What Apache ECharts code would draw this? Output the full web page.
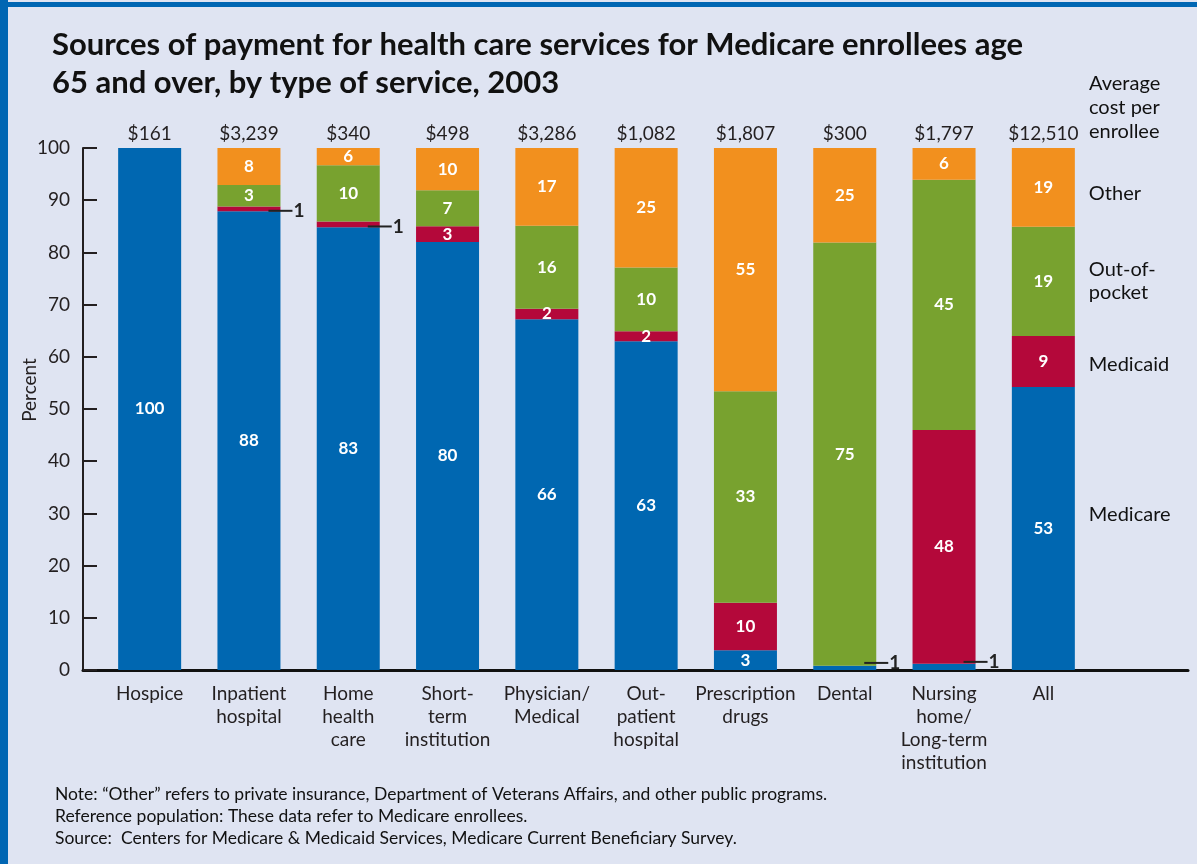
<!DOCTYPE html>
<html>
<head>
<meta charset="utf-8">
<script src="https://cdn.jsdelivr.net/npm/echarts@6/dist/echarts.min.js"></script>
<style>
  html, body { margin: 0; padding: 0; background: #dfe4f2; }
  #chart { width: 1197px; height: 864px; }
  .bl { position: absolute; left: 0; top: 0; width: 8px; height: 864px; background: #0066b3; }
  .bt { position: absolute; left: 0; top: 2px; width: 1197px; height: 5px; background: #0066b3; }
</style>
</head>
<body>
<div id="chart"></div>
<div class="bl"></div>
<div class="bt"></div>
<script>
const categories = ['Hospice', 'Inpatient\nhospital', 'Home\nhealth\ncare', 'Short-\nterm\ninstitution',
  'Physician/\nMedical', 'Out-\npatient\nhospital', 'Prescription\ndrugs', 'Dental',
  'Nursing\nhome/\nLong-term\ninstitution', 'All'];
const costs = ['$161', '$3,239', '$340', '$498', '$3,286', '$1,082', '$1,807', '$300', '$1,797', '$12,510'];

// bar heights as drawn (percent)
const medicare    = [100, 87.9, 84.8, 82.0, 67.2, 63.0, 3.8, 0.8, 1.2, 54.2];
const medicaid    = [0, 0.9, 1.1, 3.0, 2.0, 1.9, 9.1, 0, 44.8, 9.8];
const outOfPocket = [0, 4.1, 10.8, 6.9, 15.9, 12.2, 40.5, 81.1, 47.9, 20.9];
const other       = [0, 7.1, 3.3, 8.1, 14.9, 22.9, 46.6, 18.1, 6.1, 15.1];

// printed value labels
const medicareLabels    = ['100', '88', '83', '80', '66', '63', '3', '1', '1', '53'];
const medicaidLabels    = ['', '1', '1', '3', '2', '2', '10', '', '48', '9'];
const outOfPocketLabels = ['', '3', '10', '7', '16', '10', '33', '75', '45', '19'];
const otherLabels       = ['', '8', '6', '10', '17', '25', '55', '25', '6', '19'];

// labels drawn outside with a leader line
const medicareLeader = [7, 8];
const medicaidLeader = [1, 2];

const seriesNames = ['Medicare', 'Medicaid', 'Out-of-pocket', 'Other'];
const sideNames = ['Medicare', 'Medicaid', 'Out-of-\npocket', 'Other'];
const yTicks = [0, 10, 20, 30, 40, 50, 60, 70, 80, 90, 100];

const colors = ['#0067b1', '#b4083a', '#78a22f', '#f2901e'];
const FONT = 'Lato, "Open Sans", sans-serif';
const TXT = '#231f20';

const chart = echarts.init(document.getElementById('chart'), null, { renderer: 'canvas' });

function leaderLabel(text, dy) {
  return {
    show: true,
    position: 'right',
    distance: 0,
    offset: [-12, dy],
    formatter: '{l|}{n|' + text + '}',
    rich: {
      l: { width: 24, height: 2, backgroundColor: '#222', verticalAlign: 'middle' },
      n: { fontSize: 19, fontWeight: 'bold', color: '#222', fontFamily: FONT, verticalAlign: 'middle', padding: [0, 0, 0, 1] }
    }
  };
}

function segment(idx, values, labels, leaderIdx, leaderDy) {
  return {
    name: seriesNames[idx],
    type: 'bar',
    stack: 'total',
    barWidth: 63,
    barGap: '-100%',
    xAxisIndex: 0,
    yAxisIndex: 0,
    itemStyle: { color: colors[idx] },
    label: {
      show: true,
      position: 'inside',
      color: '#ffffff',
      fontSize: 17,
      fontWeight: 'bold',
      fontFamily: FONT,
      formatter: p => labels[p.dataIndex]
    },
    data: values.map((v, i) => leaderIdx.includes(i)
      ? { value: v, label: leaderLabel(labels[i], leaderDy) }
      : v),
    silent: true,
    animation: false
  };
}

const last = categories.length - 1;
const sideOffsets = [-14, 3, 0, 6];
const allSeriesValues = [medicare, medicaid, outOfPocket, other];

const sideSeries = allSeriesValues.map((vals, k) => ({
  name: seriesNames[k] + ' side',
  type: 'bar',
  stack: 'side',
  barWidth: 63,
  barGap: '-100%',
  itemStyle: { color: 'rgba(0,0,0,0)' },
  label: {
    show: true,
    position: 'right',
    distance: 14,
    offset: [0, sideOffsets[k]],
    color: '#111',
    fontSize: 20,
    lineHeight: 23,
    fontFamily: FONT,
    formatter: () => sideNames[k]
  },
  data: vals.map((v, i) => i === last ? v : '-'),
  silent: true,
  animation: false
}));

const option = {
  backgroundColor: '#dfe4f2',
  animation: false,
  title: [
    {
      text: 'Sources of payment for health care services for Medicare enrollees age\n65 and over, by type of service, 2003',
      left: 52, top: 26, padding: 0,
      textStyle: { fontSize: 31, fontWeight: 'bold', color: '#111', lineHeight: 38,
        fontFamily: 'Lato, sans-serif' }
    },
    {
      text: 'Average\ncost per\nenrollee',
      left: 1089, top: 72, padding: 0,
      textStyle: { fontSize: 20, fontWeight: 'normal', color: '#111', lineHeight: 24, fontFamily: FONT }
    },
    {
      text: 'Note: \u201cOther\u201d refers to private insurance, Department of Veterans Affairs, and other public programs.\nReference population: These data refer to Medicare enrollees.\nSource:  Centers for Medicare & Medicaid Services, Medicare Current Beneficiary Survey.',
      left: 55, top: 783, padding: 0,
      textStyle: { fontSize: 17.5, fontWeight: 'normal', color: '#111', lineHeight: 22, fontFamily: FONT }
    }
  ],
  grid: [
    { left: 100, right: 104, top: 148, bottom: 194 },
    { left: 83, right: 9, top: 148, bottom: 194 }
  ],
  xAxis: [
    {
      type: 'category', gridIndex: 0, data: categories,
      axisLine: { show: false }, axisTick: { show: false },
      axisLabel: { interval: 0, margin: 12, fontSize: 19, lineHeight: 23, color: TXT, fontFamily: FONT }
    },
    {
      type: 'category', gridIndex: 0, position: 'top', data: costs,
      axisLine: { show: false }, axisTick: { show: false },
      axisLabel: { interval: 0, margin: 5, fontSize: 19, color: TXT, fontFamily: FONT }
    },
    {
      type: 'value', gridIndex: 1, min: 0, max: 1,
      axisLine: { show: true, lineStyle: { color: '#111', width: 3 } },
      axisTick: { show: false }, axisLabel: { show: false }, splitLine: { show: false }
    }
  ],
  yAxis: [
    {
      type: 'value', gridIndex: 0, min: 0, max: 100, interval: 10, offset: 17,
      name: 'Percent', nameLocation: 'middle', nameGap: 44, nameMoveOverlap: false,
      nameTextStyle: { fontSize: 19, color: TXT, fontFamily: FONT, padding: [0, 0, 0, 38] },
      axisLine: { show: true, lineStyle: { color: '#231f20', width: 2 } },
      axisTick: { show: true, inside: true, length: 14, lineStyle: { color: '#231f20', width: 2 } },
      axisLabel: { fontSize: 19, color: TXT, margin: 13, fontFamily: FONT,
        formatter: v => yTicks.includes(v) ? String(v) : '' },
      splitLine: { show: false }
    },
    {
      type: 'value', gridIndex: 1, min: 0, max: 100, show: false
    }
  ],
  series: [
    segment(0, medicare, medicareLabels, medicareLeader, -5),
    segment(1, medicaid, medicaidLabels, medicaidLeader, 2),
    segment(2, outOfPocket, outOfPocketLabels, [], 0),
    segment(3, other, otherLabels, [], 0),
    ...sideSeries
  ]
};

chart.setOption(option);
</script>
</body>
</html>
